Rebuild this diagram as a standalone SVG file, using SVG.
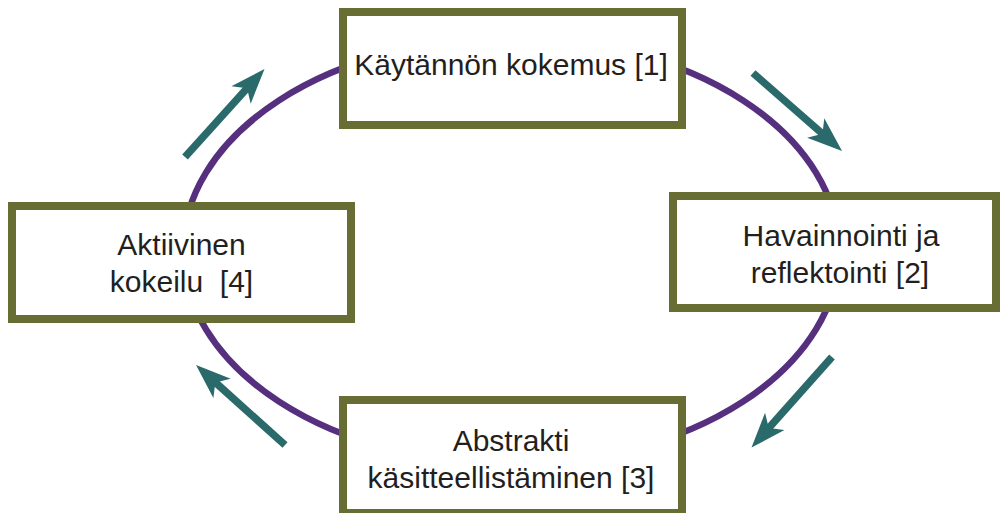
<svg xmlns="http://www.w3.org/2000/svg" width="1001" height="513" viewBox="0 0 1001 513">
  <style>
    .box { fill: #ffffff; stroke: #686d34; stroke-width: 8; }
    .label { font-family: "Liberation Sans", Arial, sans-serif; font-size: 30px; fill: #231f20; text-anchor: middle; white-space: pre; }
    .cycle { fill: none; stroke: #56307e; stroke-width: 6.5; }
    .flow { stroke: #2b6a6b; stroke-width: 7.5; stroke-linecap: butt; marker-end: url(#head); }
  </style>
  <defs>
    <!-- swept arrowhead; tip sits 20 units past the line end -->
    <marker id="head" markerUnits="userSpaceOnUse" viewBox="-16 -14 37 28" markerWidth="37" markerHeight="28" refX="0" refY="0" orient="auto" overflow="visible">
      <path d="M20,0 L-15,-13 L-6,0 L-15,13 Z" fill="#2b6a6b"/>
    </marker>
  </defs>

  <g id="connectors">
    <ellipse class="cycle" cx="511" cy="251" rx="328" ry="213"/>
    <line class="flow" x1="185" y1="157" x2="251.1" y2="83.8"/>
    <line class="flow" x1="753" y1="73" x2="827" y2="137.8"/>
    <line class="flow" x1="832" y1="357" x2="764.8" y2="432.6"/>
    <line class="flow" x1="285" y1="445" x2="210.9" y2="378.4"/>
  </g>

  <g id="node-1">
    <rect class="box" x="343" y="12" width="339" height="113"/>
    <text class="label" x="511" y="75">Käytännön kokemus [1]</text>
  </g>

  <g id="node-2">
    <rect class="box" x="673" y="196" width="323" height="112"/>
    <text class="label" x="841" y="245.5">Havainnointi ja</text>
    <text class="label" x="840" y="283">reflektointi [2]</text>
  </g>

  <g id="node-3">
    <rect class="box" x="343" y="400" width="339" height="113"/>
    <text class="label" x="511" y="451">Abstrakti</text>
    <text class="label" x="511" y="488">käsitteellistäminen [3]</text>
  </g>

  <g id="node-4">
    <rect class="box" x="12" y="206" width="339" height="113"/>
    <text class="label" x="181.5" y="255">Aktiivinen</text>
    <text class="label" x="181.5" y="292">kokeilu  [4]</text>
  </g>
</svg>
